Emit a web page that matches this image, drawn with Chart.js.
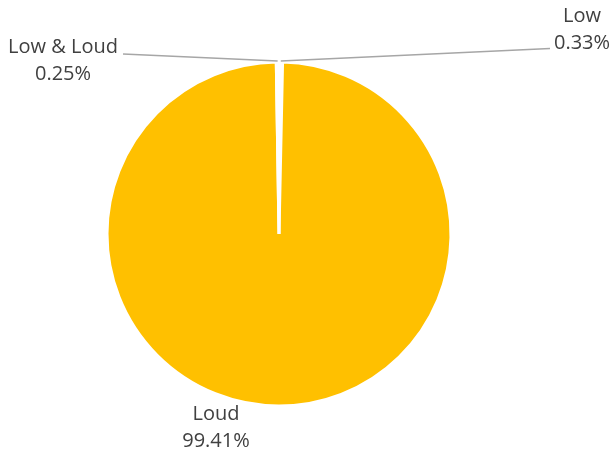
<!DOCTYPE html>
<html>
<head>
<meta charset="utf-8">
<script src="https://cdn.jsdelivr.net/npm/chart.js@4/dist/chart.umd.min.js"></script>
<style>
  html, body { margin: 0; padding: 0; background: #ffffff; }
  #wrap { width: 616px; height: 457px; }
</style>
</head>
<body>
<div id="wrap"><canvas id="pieChart" width="616" height="457"></canvas></div>
<script>
// slice data, clockwise from 12 o'clock
const categories = ["Low", "Loud", "Low & Loud"];
const shares = [0.33, 99.41, 0.25];
const shareLabels = ["0.33%", "99.41%", "0.25%"];
const sliceColors = ["#FFFFFF", "#FFC000", "#FFFFFF"];

// where the data labels sit (Excel moved them by hand)
const labelSpots = [
    { x: 582, y: 16, leader: [550, 48.5] },
    { x: 216, y: 414, leader: null },
    { x: 63, y: 47, leader: [123, 54] }
];

const labelFont = "20px 'Open Sans', sans-serif";
const textColor = "#404040";

// draws the two-line data labels and the leader lines
const pieLabels = {
    id: "pieLabels",
    afterDatasetsDraw(chart) {
        const ctx = chart.ctx;
        const arcs = chart.getDatasetMeta(0).data;
        ctx.save();
        arcs.forEach(function (arc, i) {
            const spot = labelSpots[i];
            if (spot.leader) {
                const mid = (arc.startAngle + arc.endAngle) / 2;
                const r = arc.outerRadius + 1;
                ctx.beginPath();
                ctx.strokeStyle = "#A6A6A6";
                ctx.lineWidth = 1.5;
                ctx.moveTo(spot.leader[0], spot.leader[1]);
                ctx.lineTo(arc.x + Math.cos(mid) * r, arc.y + Math.sin(mid) * r);
                ctx.stroke();
            }
            ctx.fillStyle = textColor;
            ctx.font = labelFont;
            ctx.textAlign = "center";
            ctx.textBaseline = "middle";
            ctx.fillText(categories[i], spot.x, spot.y);
            ctx.fillText(shareLabels[i], spot.x, spot.y + 27);
        });
        ctx.restore();
    }
};

const ctx = document.getElementById("pieChart").getContext("2d");
const pieChart = new Chart(ctx, {
    type: "pie",
    data: {
        labels: categories,
        datasets: [{
            data: shares,
            backgroundColor: sliceColors,
            borderColor: "#FFFFFF",
            borderWidth: 3
        }]
    },
    options: {
        responsive: false,
        animation: false,
        layout: {
            padding: { top: 60.5, bottom: 49.5, left: 105.5, right: 163.5 }
        },
        plugins: {
            legend: { display: false },
            tooltip: { enabled: false }
        }
    },
    plugins: [pieLabels]
});
</script>
</body>
</html>
